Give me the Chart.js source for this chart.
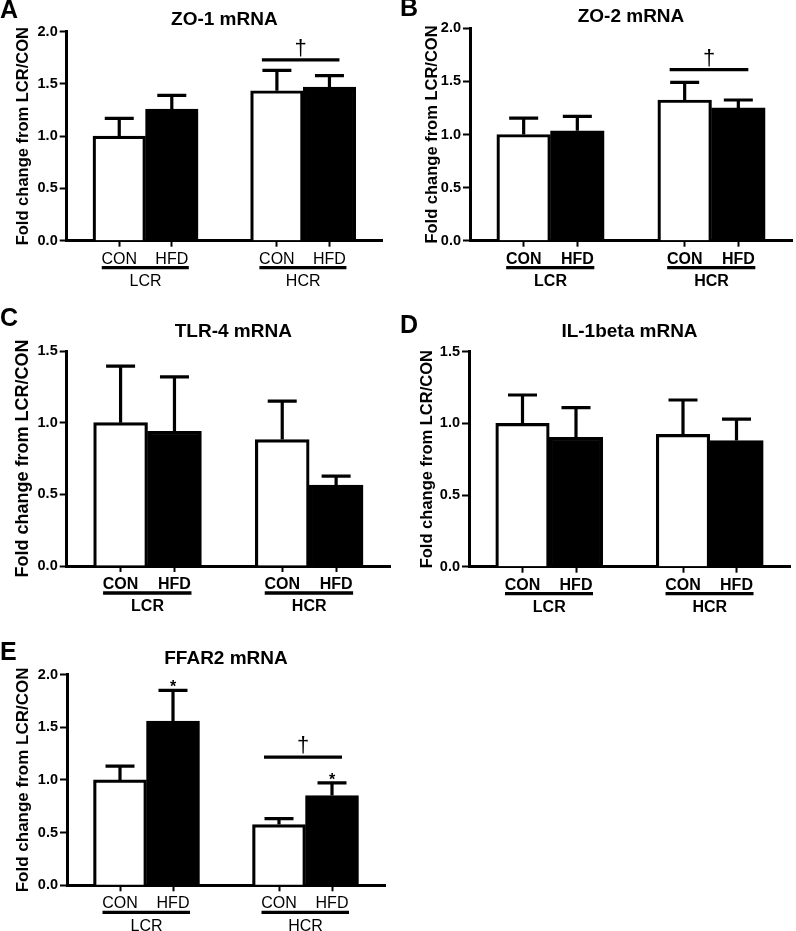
<!DOCTYPE html>
<html>
<head>
<meta charset="utf-8">
<script src="https://cdn.jsdelivr.net/npm/chart.js@4.4.1/dist/chart.umd.min.js"></script>
<style>
  body { margin: 0; background: #fff; }
  #wrap { position: relative; width: 796px; height: 931px; overflow: hidden; background: #fff; }
  canvas { position: absolute; }
</style>
</head>
<body>
<div id="wrap"></div>
<script>
const FONT = "'Liberation Sans', Arial, sans-serif";

const diets = ['CON', 'HFD'];
const lines = ['LCR', 'HCR'];
const yTitle = 'Fold change from LCR/CON';

// bar order: LCR/CON, LCR/HFD, HCR/CON, HCR/HFD
const zo1Mean = [1.00, 1.26, 1.435, 1.47];
const zo1Sem = [0.17, 0.13, 0.195, 0.11];
const zo2Mean = [1.00, 1.035, 1.325, 1.25];
const zo2Sem = [0.155, 0.135, 0.165, 0.075];
const tlr4Mean = [1.00, 0.94, 0.882, 0.565];
const tlr4Sem = [0.395, 0.38, 0.268, 0.062];
const il1bMean = [1.00, 0.903, 0.923, 0.88];
const il1bSem = [0.198, 0.207, 0.24, 0.15];
const ffar2Mean = [1.00, 1.557, 0.576, 0.852];
const ffar2Sem = [0.13, 0.293, 0.057, 0.12];

// significance: line over a line-group at a given level, and stars on bars
const zo1Sig = [{ group: 1, level: 1.73, mark: '†' }];
const zo2Sig = [{ group: 1, level: 1.61, mark: '†' }];
const ffar2Sig = [{ group: 1, level: 1.217, mark: '†' }];
const ffar2Star = [false, true, false, true];

const yMax2 = 2.0;
const yMax15 = 1.5;

// slots: empty half-gap, CON, HFD, gap, CON, HFD, empty
const slotLabels = [''];
lines.forEach(() => slotLabels.push(...diets, ''));
const barSlots = slotLabels.map((l, i) => l ? i : -1).filter(i => i >= 0);

function toSlots(values) {
  const out = slotLabels.map(() => null);
  barSlots.forEach((s, i) => { out[s] = values[i]; });
  return out;
}

const extras = {
  id: 'extras',
  afterDatasetsDraw(chart) {
    const p = chart.options.plugins.extras;
    const ctx = chart.ctx, x = chart.scales.x, y = chart.scales.y;
    ctx.save();
    ctx.strokeStyle = '#000';
    ctx.fillStyle = '#000';
    ctx.lineWidth = 3.2;
    ctx.textAlign = 'center';
    barSlots.forEach((slot, i) => {
      const cx = x.getPixelForValue(slot);
      const top = y.getPixelForValue(p.mean[i]);
      const err = y.getPixelForValue(p.mean[i] + p.sem[i]);
      ctx.beginPath();
      ctx.moveTo(cx, top);
      ctx.lineTo(cx, err);
      ctx.moveTo(cx - 14.5, err);
      ctx.lineTo(cx + 14.5, err);
      ctx.stroke();
      if (p.star && p.star[i]) {
        ctx.font = 'bold 16px ' + FONT;
        ctx.textBaseline = 'alphabetic';
        ctx.fillText('*', cx, err + 2);
      }
    });
    (p.sig || []).forEach(s => {
      const x1 = x.getPixelForValue(barSlots[s.group * 2]) - 15;
      const x2 = x.getPixelForValue(barSlots[s.group * 2 + 1]) + 10;
      const ly = y.getPixelForValue(s.level);
      ctx.beginPath();
      ctx.moveTo(x1, ly);
      ctx.lineTo(x2, ly);
      ctx.stroke();
      ctx.font = '22px ' + FONT;
      ctx.textBaseline = 'middle';
      ctx.fillText(s.mark, (x1 + x2) / 2, ly - 11);
    });
    ctx.restore();
  },
  afterDraw(chart) {
    const p = chart.options.plugins.extras;
    const ctx = chart.ctx, x = chart.scales.x;
    const area = chart.chartArea;
    ctx.save();
    ctx.fillStyle = '#000';
    ctx.strokeStyle = '#000';
    ctx.textAlign = 'center';
    ctx.textBaseline = 'middle';
    ctx.font = (p.bold ? 'bold ' : '') + '16px ' + FONT;
    lines.forEach((g, gi) => {
      const a = x.getPixelForValue(barSlots[gi * 2]);
      const b = x.getPixelForValue(barSlots[gi * 2 + 1]);
      ctx.lineWidth = 3.3;
      ctx.beginPath();
      ctx.moveTo(a - 17.5, area.bottom + 27);
      ctx.lineTo(b + 17, area.bottom + 27);
      ctx.stroke();
      ctx.fillText(g, (a + b) / 2, area.bottom + 41);
    });
    ctx.font = 'bold 19px ' + FONT;
    ctx.fillText(p.title, (area.left + area.right) / 2 + (p.titleDx || 0), p.titleY);
    ctx.textAlign = 'left';
    ctx.textBaseline = 'alphabetic';
    ctx.font = 'bold 25px ' + FONT;
    ctx.fillText(p.letter, 0, p.letterY);
    ctx.restore();
  }
};

function makePanel(opt) {
  const [bx, by, bw, bh] = opt.box;
  const [al, at, ar, ab] = opt.area;
  const canvas = document.createElement('canvas');
  canvas.width = bw;
  canvas.height = bh;
  canvas.style.left = bx + 'px';
  canvas.style.top = by + 'px';
  document.getElementById('wrap').appendChild(canvas);

  const titleSize = opt.yTitleSize;
  new Chart(canvas, {
    type: 'bar',
    data: {
      labels: slotLabels,
      datasets: [{
        data: toSlots(opt.mean),
        backgroundColor: slotLabels.map(l => l === 'HFD' ? '#000' : '#fff'),
        borderColor: '#000',
        borderWidth: 3.2,
        barPercentage: 1,
        categoryPercentage: 1
      }]
    },
    options: {
      responsive: false,
      animation: false,
      layout: { padding: { top: at - by, right: bx + bw - ar, left: 0, bottom: 0 } },
      plugins: {
        legend: { display: false },
        tooltip: { enabled: false },
        extras: {
          mean: opt.mean, sem: opt.sem, sig: opt.sig, star: opt.star,
          title: opt.title, titleY: opt.titleY - by, titleDx: opt.titleDx, letter: opt.letter, letterY: opt.letterY - by,
          bold: opt.bold
        }
      },
      scales: {
        x: {
          offset: false,
          afterFit: s => { s.height = by + bh - ab; },
          grid: {
            offset: false,
            drawOnChartArea: false,
            tickLength: 6,
            tickWidth: 2,
            tickColor: c => slotLabels[c.index] ? '#000' : 'rgba(0,0,0,0)'
          },
          border: { color: '#000', width: 3 },
          ticks: {
            autoSkip: false, maxRotation: 0, padding: 3, color: '#000',
            font: { family: FONT, size: 16, weight: opt.bold ? 'bold' : 'normal' }
          }
        },
        y: {
          min: 0,
          max: opt.yMax,
          afterFit: s => { s.width = al - bx; },
          grid: { drawOnChartArea: false, tickLength: 7, tickWidth: 2, color: '#000' },
          border: { color: '#000', width: 3 },
          ticks: {
            stepSize: 0.5, padding: 2, color: '#000',
            font: { family: FONT, size: 14.5, weight: 'bold' },
            callback: v => v.toFixed(1)
          },
          title: {
            display: true, text: yTitle, color: '#000',
            font: { family: FONT, size: titleSize, weight: 'bold' },
            padding: { top: opt.yTitleX - bx - titleSize * 0.6, bottom: 0 }
          }
        }
      }
    },
    plugins: [extras]
  });
}

makePanel({ letter: 'A', title: 'ZO-1 mRNA', mean: zo1Mean, sem: zo1Sem, sig: zo1Sig, yMax: yMax2,
  box: [0, 0, 398, 300], area: [66.7, 31.7, 382, 240.7], titleY: 20, letterY: 18, yTitleX: 23.3, yTitleSize: 16.5, bold: false });
makePanel({ letter: 'B', title: 'ZO-2 mRNA', mean: zo2Mean, sem: zo2Sem, sig: zo2Sig, yMax: yMax2,
  box: [400, 0, 396, 300], area: [470, 28.3, 792, 240.7], titleY: 16.5, letterY: 16, yTitleX: 432.5, yTitleSize: 16.5, bold: true });
makePanel({ letter: 'C', title: 'TLR-4 mRNA', mean: tlr4Mean, sem: tlr4Sem, yMax: yMax15, titleDx: 5,
  box: [0, 300, 398, 320], area: [66.7, 351, 390, 566], titleY: 331.7, letterY: 326, yTitleX: 23.3, yTitleSize: 18, bold: true });
makePanel({ letter: 'D', title: 'IL-1beta mRNA', mean: il1bMean, sem: il1bSem, yMax: yMax15,
  box: [400, 300, 396, 320], area: [469, 351.7, 790, 566.7], titleY: 331.7, letterY: 333, yTitleX: 427.5, yTitleSize: 16.5, bold: true });
makePanel({ letter: 'E', title: 'FFAR2 mRNA', mean: ffar2Mean, sem: ffar2Sem, sig: ffar2Sig, star: ffar2Star, yMax: yMax2,
  box: [0, 610, 398, 321], area: [67, 674.5, 385, 885.3], titleY: 658.3, letterY: 660, yTitleX: 23.3, yTitleSize: 17, bold: false });
</script>
</body>
</html>
